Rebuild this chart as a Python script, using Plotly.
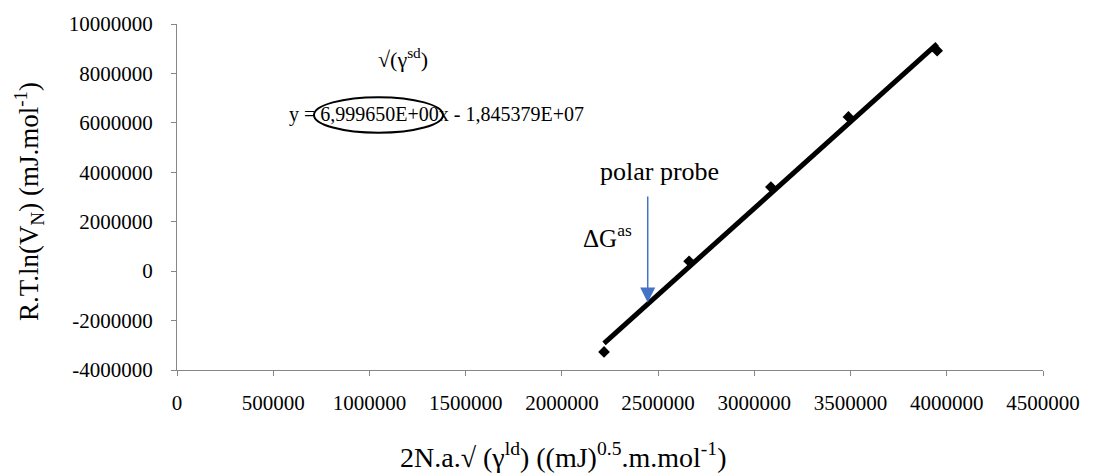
import plotly.graph_objects as go

# Data
x_vals = [2219000, 2661000, 3086000, 3489000, 3950000]
y_vals = [-3270000, 400000, 3400000, 6240000, 8920000]

# Trendline coefficients as displayed on the chart
slope = 6.999650
intercept = -1.845379e7

x_ticks = [0, 500000, 1000000, 1500000, 2000000, 2500000, 3000000, 3500000, 4000000, 4500000]
y_ticks = [-4000000, -2000000, 0, 2000000, 4000000, 6000000, 8000000, 10000000]

# arrow (polar probe) in data units
arrow_x = 2446000
arrow_tail_y = 3080000
arrow_tip_y = -1270000

FONT = "Liberation Serif, Times New Roman, serif"

W, H = 1105, 475
L, R, T, B = 177, 62, 20, 105
PW, PH = W - L - R, H - T - B


def px(xp):
    return (xp - L) / PW


def py(yp):
    return (H - B - yp) / PH


fig = go.Figure()

line_x = [min(x_vals), max(x_vals)]
line_y = [slope * v + intercept for v in line_x]

fig.add_trace(go.Scatter(
    x=x_vals, y=y_vals, mode="markers",
    marker=dict(symbol="diamond", size=9, color="black"),
    showlegend=False, hoverinfo="skip",
))
fig.add_trace(go.Scatter(
    x=line_x, y=line_y, mode="lines",
    line=dict(color="black", width=5),
    showlegend=False, hoverinfo="skip",
))

axis_common = dict(
    showgrid=False, zeroline=False, showline=True,
    linecolor="#868686", linewidth=1,
    ticks="outside", ticklen=5, tickcolor="#868686", tickwidth=1,
    tickfont=dict(family=FONT, size=21, color="black"),
)

fig.update_xaxes(range=[0, 4500000], tickvals=x_ticks,
                 ticktext=[str(v) for v in x_ticks],
                 ticklabelstandoff=9, **axis_common)
fig.update_yaxes(range=[-4000000, 10000000], tickvals=y_ticks,
                 ticktext=[str(v) for v in y_ticks],
                 ticklabelstandoff=14, **axis_common)

annos = [
    dict(text="√(γ<sup>sd</sup>)", x=px(403), y=py(54), size=22),
    dict(text="y = 6,999650E+00x - 1,845379E+07", x=px(287), y=py(112), size=20, xanchor="left"),
    dict(text="polar probe", x=px(659), y=py(169), size=26),
    dict(text="ΔG<sup>as</sup>", x=px(607), y=py(234), size=25),
    dict(text="2N.a.√ (γ<sup>ld</sup>) ((mJ)<sup>0.5</sup>.m.mol<sup>-1</sup>)",
         x=px(563), y=py(456), size=28),
]
for a in annos:
    fig.add_annotation(text=a["text"], x=a["x"], y=a["y"], xref="paper", yref="paper",
                       showarrow=False, xanchor=a.get("xanchor", "center"), yanchor="middle",
                       font=dict(family=FONT, size=a["size"], color="black"))

fig.add_annotation(text="R.T.ln(V<sub>N</sub>) (mJ.mol<sup>-1</sup>)",
                   x=px(29), y=py(200), xref="paper", yref="paper",
                   showarrow=False, textangle=-90, xanchor="center", yanchor="middle",
                   font=dict(family=FONT, size=27, color="black"))

# arrow
fig.add_annotation(x=arrow_x, y=arrow_tip_y, ax=arrow_x, ay=arrow_tail_y,
                   xref="x", yref="y", axref="x", ayref="y", text="",
                   showarrow=True, arrowhead=2, arrowsize=2, arrowwidth=1.5,
                   arrowcolor="#4472C4")

# ellipse around slope
fig.add_shape(type="circle", xref="paper", yref="paper",
              x0=px(314), x1=px(443), y0=py(130), y1=py(94),
              line=dict(color="black", width=2))

fig.update_layout(
    width=W, height=H,
    margin=dict(l=L, r=R, t=T, b=B),
    plot_bgcolor="white", paper_bgcolor="white",
    font=dict(family=FONT),
)

fig.write_html("out.html")
